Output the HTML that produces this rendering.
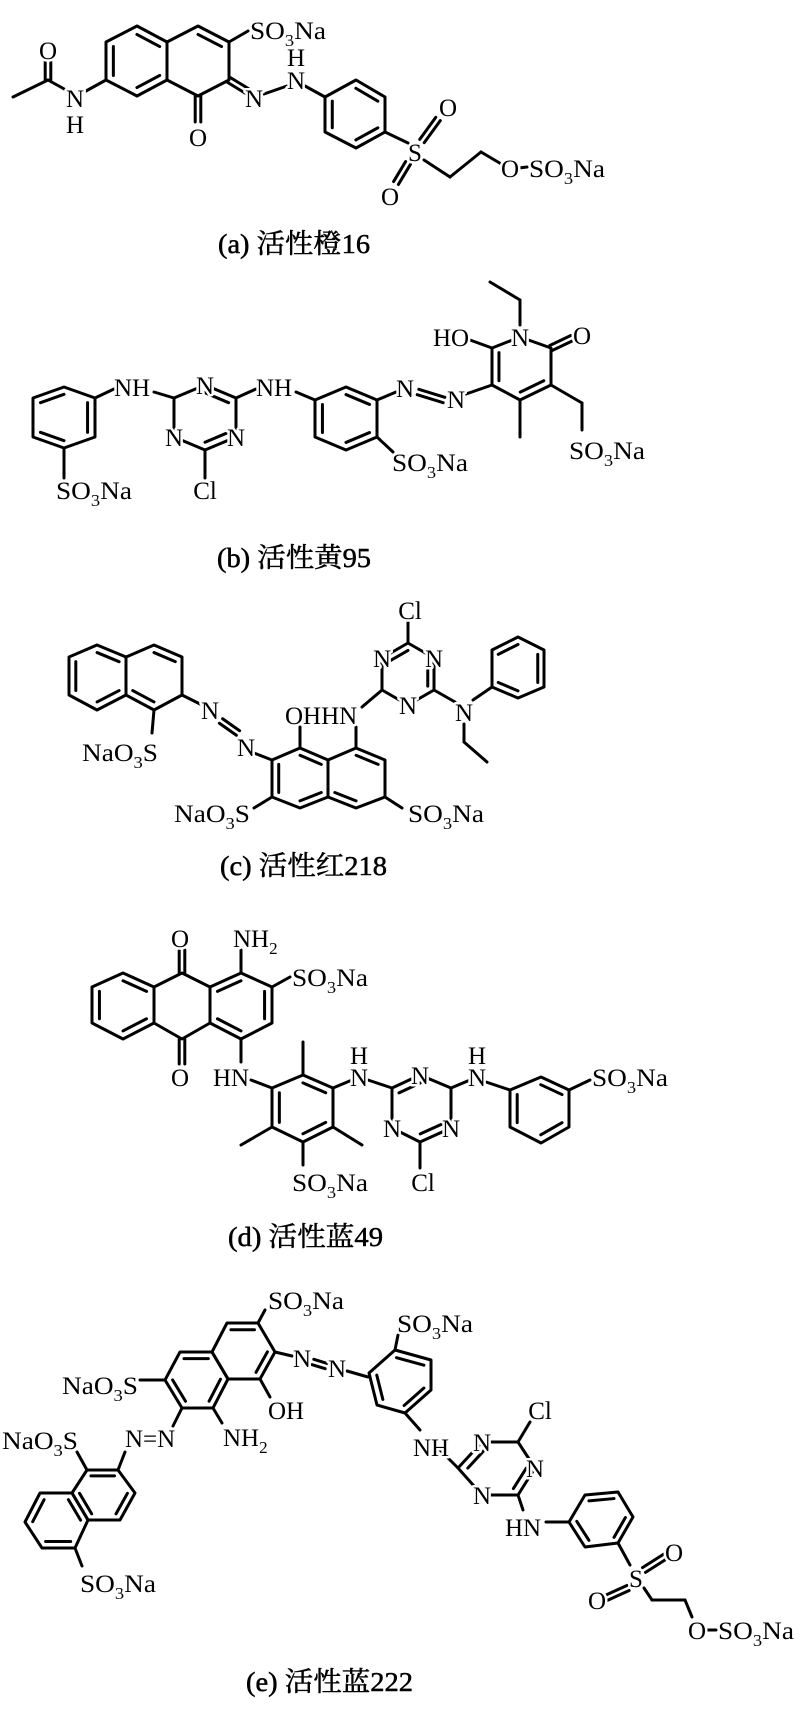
<!DOCTYPE html>
<html><head><meta charset="utf-8">
<style>
html,body{margin:0;padding:0;background:#fff;}
svg{display:block;}
text{font-family:"Liberation Serif","Noto Serif CJK SC",serif;font-size:25px;fill:#000;stroke:#fff;stroke-width:5px;paint-order:stroke;stroke-linejoin:round;}
text.cap{font-size:27px;stroke:#000;stroke-width:0.5px;}
line,polygon{stroke:#000;stroke-width:3;fill:none;stroke-linecap:round;stroke-linejoin:round;}
</style></head>
<body>
<svg id="s" width="800" height="1714" viewBox="0 0 800 1714" xmlns="http://www.w3.org/2000/svg">
<g id="b"></g><g id="t">
<text class="cap" x="218" y="253" textLength="152" lengthAdjust="spacingAndGlyphs">(a) 活性橙16</text>
<text class="cap" x="217" y="567" textLength="154" lengthAdjust="spacingAndGlyphs">(b) 活性黄95</text>
<text class="cap" x="220" y="875" textLength="167" lengthAdjust="spacingAndGlyphs">(c) 活性红218</text>
<text class="cap" x="228" y="1246" textLength="155" lengthAdjust="spacingAndGlyphs">(d) 活性蓝49</text>
<text class="cap" x="246" y="1691" textLength="167" lengthAdjust="spacingAndGlyphs">(e) 活性蓝222</text>
</g>
</svg>
<script>
var NS="http://www.w3.org/2000/svg",B=document.getElementById('b'),T=document.getElementById('t');
function L(x1,y1,x2,y2){var e=document.createElementNS(NS,'line');e.setAttribute('x1',x1);e.setAttribute('y1',y1);e.setAttribute('x2',x2);e.setAttribute('y2',y2);B.appendChild(e);}
function D(x1,y1,x2,y2){var dx=x2-x1,dy=y2-y1,l=Math.hypot(dx,dy),nx=-dy/l*2.8,ny=dx/l*2.8;L(x1+nx,y1+ny,x2+nx,y2+ny);L(x1-nx,y1-ny,x2-nx,y2-ny);}
function R(p,d){var e=document.createElementNS(NS,'polygon');e.setAttribute('points',p.map(function(a){return a.join(',')}).join(' '));B.appendChild(e);
var cx=0,cy=0;p.forEach(function(a){cx+=a[0];cy+=a[1];});cx/=p.length;cy/=p.length;
(d||[]).forEach(function(i){var a=p[i],b=p[(i+1)%p.length],f=0.24;L(a[0]+(cx-a[0])*f,a[1]+(cy-a[1])*f,b[0]+(cx-b[0])*f,b[1]+(cy-b[1])*f);});}
function T_(x,y,s,anc){var e=document.createElementNS(NS,'text');e.setAttribute('x',x);e.setAttribute('y',y+9);if(anc)e.setAttribute('text-anchor',anc);
var parts=s.split(/_(\d)/);for(var i=0;i<parts.length;i++){if(!parts[i])continue;var t=document.createElementNS(NS,'tspan');t.textContent=parts[i];
if(i%2==1){t.setAttribute('font-size','17');t.setAttribute('dy','7');}else if(i>0){t.setAttribute('dy','-7');}e.appendChild(t);}
if(/SO_3Na|NaO_3S/.test(s)&&s.length<=6){e.setAttribute('textLength','76');e.setAttribute('lengthAdjust','spacingAndGlyphs');}
T.appendChild(e);}
/* (a) */
R([[106,80],[106,42],[137,26],[167,42],[167,80],[137,96]],[0,2,4]);
R([[167,42],[198,26],[229,42],[229,80],[198,96],[167,80]],[1]);
L(13,97,48,80);D(48,80,48,60);T_(48,50,'O','middle');L(48,80,66,90);T_(75,98,'N','middle');T_(75,124,'H','middle');L(86,91,106,80);
L(229,42,248,31);T_(250,30,'SO_3Na');D(198,96,198,122);T_(198,137,'O','middle');
D(229,80,247,91);T_(254,98,'N','middle');L(264,94,287,86);T_(296,80,'N','middle');T_(296,57,'H','middle');L(305,86,325,97);
R([[325,97],[356,80],[385,97],[385,132],[356,148],[325,132]],[1,3,5]);
L(385,132,408,143);T_(415,152,'S','middle');D(422,141,438,119);T_(448,107,'O','middle');D(408,163,396,183);T_(390,196,'O','middle');
L(424,160,450,177);L(450,177,481,152);L(481,152,503,165);T_(510,168,'O','middle');L(519,168,527,167);T_(529,168,'SO_3Na');
/* (b) */
R([[64,387],[95,398],[95,437],[64,448],[33,437],[33,398]],[1,3,5]);
L(95,398,114,389);T_(114,387,'NH');L(154,392,174,398);L(64,448,64,478);T_(56,490,'SO_3Na');
R([[174,398],[205,385],[236,398],[236,437],[205,450],[174,437]],[1,3]);
T_(205,385,'N','middle');T_(236,437,'N','middle');T_(174,437,'N','middle');L(205,450,205,478);T_(205,490,'Cl','middle');
L(236,398,256,389);T_(256,387,'NH');L(296,392,315,400);
R([[315,400],[346,387],[377,400],[377,437],[346,450],[315,437]],[1,3,5]);
L(377,437,393,452);T_(392,462,'SO_3Na');L(377,400,396,392);T_(405,388,'N','middle');D(418,392,444,400);T_(456,399,'N','middle');L(466,394,492,385);
R([[492,385],[492,348],[520,337],[551,348],[551,385],[520,400]],[0,4]);
T_(451,337,'HO','middle');L(470,340,492,348);T_(520,337,'N','middle');L(520,325,520,300);L(520,300,490,282);
D(551,348,572,338);T_(582,335,'O','middle');L(520,400,520,437);L(551,385,582,403);L(582,403,582,430);T_(569,450,'SO_3Na');
/* (c) */
R([[69,657],[97,645],[126,657],[126,695],[97,710],[69,695]],[1,3,5]);
R([[126,657],[154,645],[182,657],[182,695],[154,710],[126,695]],[1,4]);
L(154,710,152,733);T_(82,752,'NaO_3S');L(182,695,200,704);T_(210,710,'N','middle');D(221,721,238,733);T_(246,747,'N','middle');L(254,753,272,760);
R([[272,760],[300,748],[328,760],[328,797],[300,808],[272,797]],[1,3,5]);
R([[328,760],[356,748],[385,760],[385,797],[356,808],[328,797]],[1,4]);
L(300,748,300,727);L(356,748,356,727);T_(285,715,'OHHN');
L(272,797,254,808);T_(174,813,'NaO_3S');L(385,797,402,808);T_(408,813,'SO_3Na');
L(362,707,382,690);
R([[382,690],[382,658],[408,643],[434,658],[434,690],[408,705]],[1,3]);
T_(382,658,'N','middle');T_(434,658,'N','middle');T_(408,705,'N','middle');
L(408,643,408,622);T_(410,610,'Cl','middle');L(434,690,455,702);T_(464,712,'N','middle');L(464,724,464,742);L(464,742,487,762);L(473,700,492,687);
R([[492,687],[492,650],[518,637],[544,650],[544,687],[518,698]],[1,3,5]);
/* (d) */
R([[92,987],[123,973],[154,987],[154,1023],[123,1039],[92,1023]],[1,3,5]);
R([[154,987],[182,973],[210,987],[210,1023],[182,1039],[154,1023]],[]);
R([[210,987],[241,973],[272,987],[272,1023],[241,1039],[210,1023]],[0,2,4]);
D(182,973,182,950);T_(180,938,'O','middle');D(182,1039,182,1064);T_(180,1077,'O','middle');
L(241,973,241,950);T_(233,938,'NH_2');L(272,987,290,977);T_(292,977,'SO_3Na');
L(241,1039,241,1062);T_(213,1077,'HN');L(251,1080,272,1088);
R([[272,1088],[303,1075],[333,1088],[333,1127],[303,1142],[272,1127]],[1,3,5]);
L(303,1075,303,1042);L(272,1127,241,1145);L(333,1127,362,1145);L(303,1142,303,1165);T_(292,1182,'SO_3Na');
L(333,1088,352,1080);T_(359,1077,'N','middle');T_(359,1055,'H','middle');L(368,1080,392,1088);
R([[392,1088],[420,1075],[451,1088],[451,1128],[420,1142],[392,1128]],[0,3]);
T_(420,1075,'N','middle');T_(451,1128,'N','middle');T_(392,1128,'N','middle');
L(420,1142,420,1168);T_(423,1182,'Cl','middle');
L(451,1088,470,1080);T_(477,1077,'N','middle');T_(477,1055,'H','middle');L(486,1082,510,1090);
R([[510,1090],[541,1077],[569,1090],[569,1127],[541,1143],[510,1127]],[1,3,5]);
L(569,1090,590,1080);T_(592,1077,'SO_3Na');
/* (e) */
R([[227,1323],[258,1323],[275,1352],[260,1379],[228,1379],[212,1352]],[0,2]);
R([[212,1352],[228,1379],[213,1408],[182,1408],[165,1380],[180,1352]],[1,3,5]);
L(258,1323,265,1310);T_(268,1300,'SO_3Na');
L(275,1352,292,1356);T_(302,1358,'N','middle');D(313,1362,326,1366);T_(337,1368,'N','middle');L(347,1371,368,1377);
L(260,1379,270,1397);T_(268,1410,'OH');L(213,1408,222,1423);T_(223,1437,'NH_2');
L(165,1380,140,1380);T_(62,1385,'NaO_3S');L(182,1408,173,1426);T_(125,1438,'N=N');L(125,1452,118,1470);
R([[87,1470],[118,1470],[135,1493],[120,1520],[88,1520],[72,1493]],[0,2,4]);
R([[40,1493],[72,1493],[88,1520],[75,1548],[42,1548],[25,1522]],[1,3,5]);
L(87,1470,77,1452);T_(2,1440,'NaO_3S');L(75,1548,82,1566);T_(80,1583,'SO_3Na');
R([[369,1373],[395,1350],[431,1360],[431,1390],[405,1413],[377,1405]],[1,3,5]);
L(395,1350,398,1335);T_(397,1323,'SO_3Na');L(405,1413,420,1430);T_(413,1447,'NH');L(440,1450,458,1468);
R([[458,1468],[482,1442],[518,1442],[535,1468],[518,1495],[482,1495]],[0,3]);
T_(482,1442,'N','middle');T_(535,1468,'N','middle');T_(482,1495,'N','middle');
L(518,1442,530,1422);T_(540,1410,'Cl','middle');L(518,1495,523,1510);T_(505,1527,'HN');L(546,1522,569,1522);
R([[569,1522],[585,1495],[618,1492],[633,1517],[618,1543],[585,1547]],[1,3,5]);
L(618,1543,630,1565);T_(636,1578,'S','middle');D(644,1570,666,1556);T_(674,1552,'O','middle');D(628,1588,606,1598);T_(597,1600,'O','middle');
L(644,1588,652,1600);L(652,1600,685,1600);L(685,1600,692,1617);T_(697,1630,'O','middle');L(706,1630,716,1630);T_(718,1630,'SO_3Na');
</script>
</body></html>
